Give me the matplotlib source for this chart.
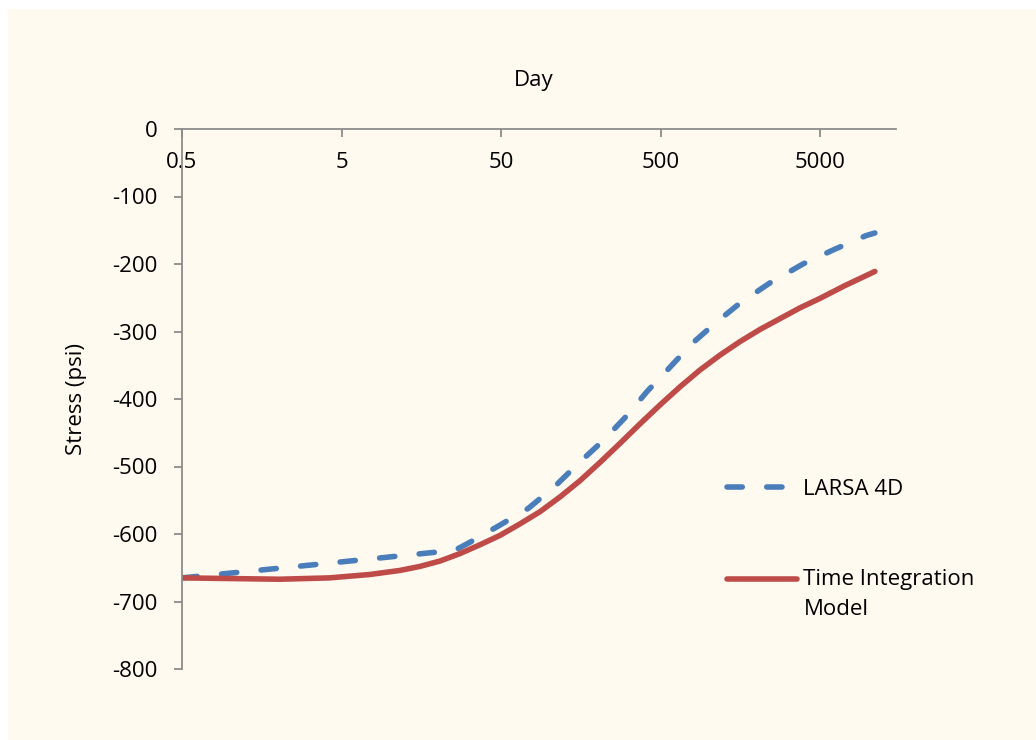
import matplotlib
matplotlib.use("Agg")
import matplotlib.pyplot as plt

# values (days on a log axis, stress in psi)
larsa_days = [0.5, 1, 3.2, 10, 25.7, 32, 49, 74, 109, 153, 217, 303, 410, 571,
              784, 1093, 1568, 2417, 3890, 6170, 9660, 10990]
larsa_stress = [-665, -658, -646, -634, -624, -612, -587, -562, -529, -495, -462, -426, -389, -353,
                -318, -288, -258, -228, -200, -178, -158, -154]

tim_days = [0.5, 1, 2.06, 4.2, 7.5, 11.6, 15.5, 20.7, 27.6, 36.8, 49.2, 65.6, 87.5, 117, 156,
            208, 277, 370, 494, 660, 881, 1175, 1568, 2092, 2792, 3726, 4969, 7130, 10990]
tim_stress = [-665, -666, -667, -665, -660, -654, -648, -640, -629, -616, -602, -585, -567, -545, -521,
              -494, -466, -437, -409, -382, -357, -335, -315, -297, -281, -265, -251, -232, -211]

x_ticks = [0.5, 5, 50, 500, 5000]
x_tick_labels = ["0.5", "5", "50", "500", "5000"]
y_ticks = [0, -100, -200, -300, -400, -500, -600, -700, -800]

plt.rcParams["font.family"] = ["Open Sans", "DejaVu Sans"]
plt.rcParams["axes.unicode_minus"] = False

bg = "#FFFAF0"
axis_grey = "#8C8C8C"
fs = 16

fig = plt.figure(figsize=(10.36, 7.4), dpi=100)
fig.patch.set_facecolor("white")
# cream chart area, white strip at top and left
fig.patches.append(plt.Rectangle((8 / 1036, 0), 1, 1 - 9 / 740, transform=fig.transFigure,
                                 facecolor=bg, edgecolor="none", zorder=-10))

ax = fig.add_axes([182 / 1036, 1 - 669 / 740, (896 - 182) / 1036, (669 - 129) / 740])
ax.set_facecolor(bg)

ax.plot(larsa_days, larsa_stress, color="#4A7EBB", lw=4, ls=(0, (2.75, 4.4)),
        dash_capstyle="round", solid_capstyle="round", label="LARSA 4D")
ax.plot(tim_days, tim_stress, color="#BE4B48", lw=4, solid_capstyle="round",
        label="Time Integration\nModel")

ax.set_xscale("log")
ax.set_xlim(0.5, 14900)
ax.set_ylim(-800, 0)

ax.set_xticks(x_ticks)
ax.set_xticklabels(x_tick_labels)
ax.minorticks_off()
ax.set_yticks(y_ticks)
ax.set_yticklabels([str(v) for v in y_ticks])

# x axis sits along y = 0 (top edge), labels hang below it
ax.spines["bottom"].set_position(("data", 0))
ax.spines["top"].set_visible(False)
ax.spines["right"].set_visible(False)
for s in ["bottom", "left"]:
    ax.spines[s].set_color(axis_grey)
    ax.spines[s].set_linewidth(1.3)

ax.tick_params(axis="x", direction="out", length=6, width=1.3, color=axis_grey,
               pad=10.5, labelsize=fs)
ax.tick_params(axis="y", direction="out", length=5.5, width=1.3, color=axis_grey,
               pad=12, labelsize=fs)

ax.set_title("Day", fontsize=fs, pad=31, x=0.493)
ax.set_ylabel("Stress (psi)", fontsize=fs, labelpad=18)

leg = ax.legend(loc="upper left", bbox_to_anchor=(0.763, 0.352), frameon=False,
                fontsize=fs, handlelength=3.15, handletextpad=0.3, labelspacing=3.1,
                borderpad=0, borderaxespad=0)
leg.get_texts()[1].set_linespacing(1.6)
# Excel puts the handle next to the first line of a wrapped label
red_handle = leg.get_lines()[1]
red_handle.set_ydata([y + 11.2 for y in red_handle.get_ydata()])

fig.savefig("out.png", dpi=100, facecolor=fig.get_facecolor())
